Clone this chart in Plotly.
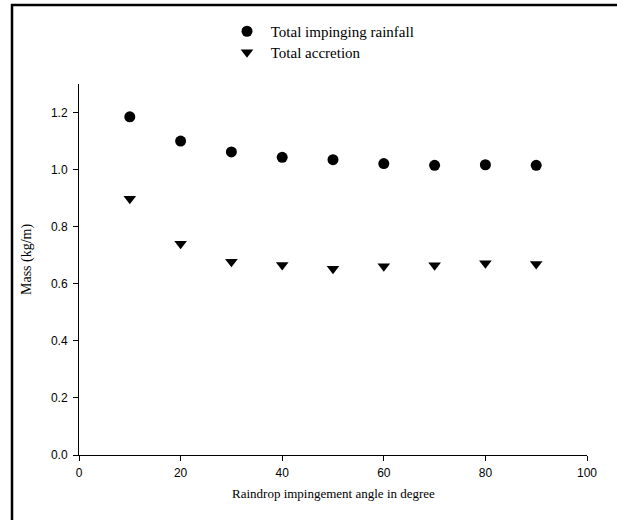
import plotly.graph_objects as go

angles = [10, 20, 30, 40, 50, 60, 70, 80, 90]
impinging = [1.185, 1.100, 1.062, 1.043, 1.035, 1.021, 1.015, 1.017, 1.015]
accretion = [0.898, 0.740, 0.677, 0.666, 0.653, 0.661, 0.665, 0.672, 0.669]
x_ticks = [0, 20, 40, 60, 80, 100]
y_ticks = [0.0, 0.2, 0.4, 0.6, 0.8, 1.0, 1.2]

W, H = 617, 520
L, R, T, B = 79, 30, 84, 65
pw, ph = W - L - R, H - T - B

def px_x(p):
    return (p - L) / pw

def px_y(p):
    return (H - B - p) / ph

SERIF = "Liberation Serif, Times New Roman, serif"
SANS = "Liberation Sans, Arial, sans-serif"

fig = go.Figure()
fig.add_trace(go.Scatter(x=angles, y=impinging, mode="markers", name="\u00a0Total impinging rainfall",
                         legend="legend",
                         marker=dict(symbol="circle", size=11, color="black")))
fig.add_trace(go.Scatter(x=angles, y=accretion, mode="markers", name="\u00a0Total accretion",
                         legend="legend2",
                         marker=dict(symbol="triangle-down", size=11, color="black")))

axis_common = dict(showgrid=False, zeroline=False, showline=True, linecolor="black", linewidth=1,
                   ticks="outside", ticklen=5, tickcolor="black", tickwidth=1,
                   tickfont=dict(family=SANS, size=12, color="black"))

fig.update_xaxes(range=[0, 100], tickvals=x_ticks, ticktext=[str(v) for v in x_ticks],
                 ticklabelstandoff=2, **axis_common)
fig.update_yaxes(range=[0, 1.3], tickvals=y_ticks, ticktext=[f"{v:.1f}" for v in y_ticks],
                 ticklabelstandoff=3, **axis_common)

fig.add_annotation(text="Raindrop impingement angle in degree", xref="paper", yref="paper",
                   x=0.5, y=px_y(493), xanchor="center", yanchor="middle", showarrow=False,
                   font=dict(family=SERIF, size=13, color="black"))
fig.add_annotation(text="Mass (kg/m)", xref="paper", yref="paper", textangle=-90,
                   x=px_x(27), y=px_y(259), xanchor="center", yanchor="middle", showarrow=False,
                   font=dict(family=SERIF, size=14, color="black"))

frame = dict(color="black", width=2.5)
fig.add_shape(type="line", xref="paper", yref="paper", x0=px_x(12), x1=px_x(12), y0=px_y(4), y1=px_y(H), line=frame)
fig.add_shape(type="line", xref="paper", yref="paper", x0=px_x(11), x1=px_x(W), y0=px_y(5), y1=px_y(5), line=frame)

leg_common = dict(xanchor="left", yanchor="top", bgcolor="rgba(0,0,0,0)", itemwidth=30,
                  font=dict(family=SERIF, size=15, color="black"))

fig.update_layout(
    width=W, height=H,
    margin=dict(l=L, r=R, t=T, b=B, pad=0),
    paper_bgcolor="white", plot_bgcolor="white",
    showlegend=True,
    legend=dict(x=px_x(227), y=px_y(15), **leg_common),
    legend2=dict(x=px_x(227), y=px_y(36), **leg_common),
)

fig.write_html("out.html", config={"displayModeBar": False},
               post_script="document.body.style.margin='0';document.body.style.overflow='hidden';")
